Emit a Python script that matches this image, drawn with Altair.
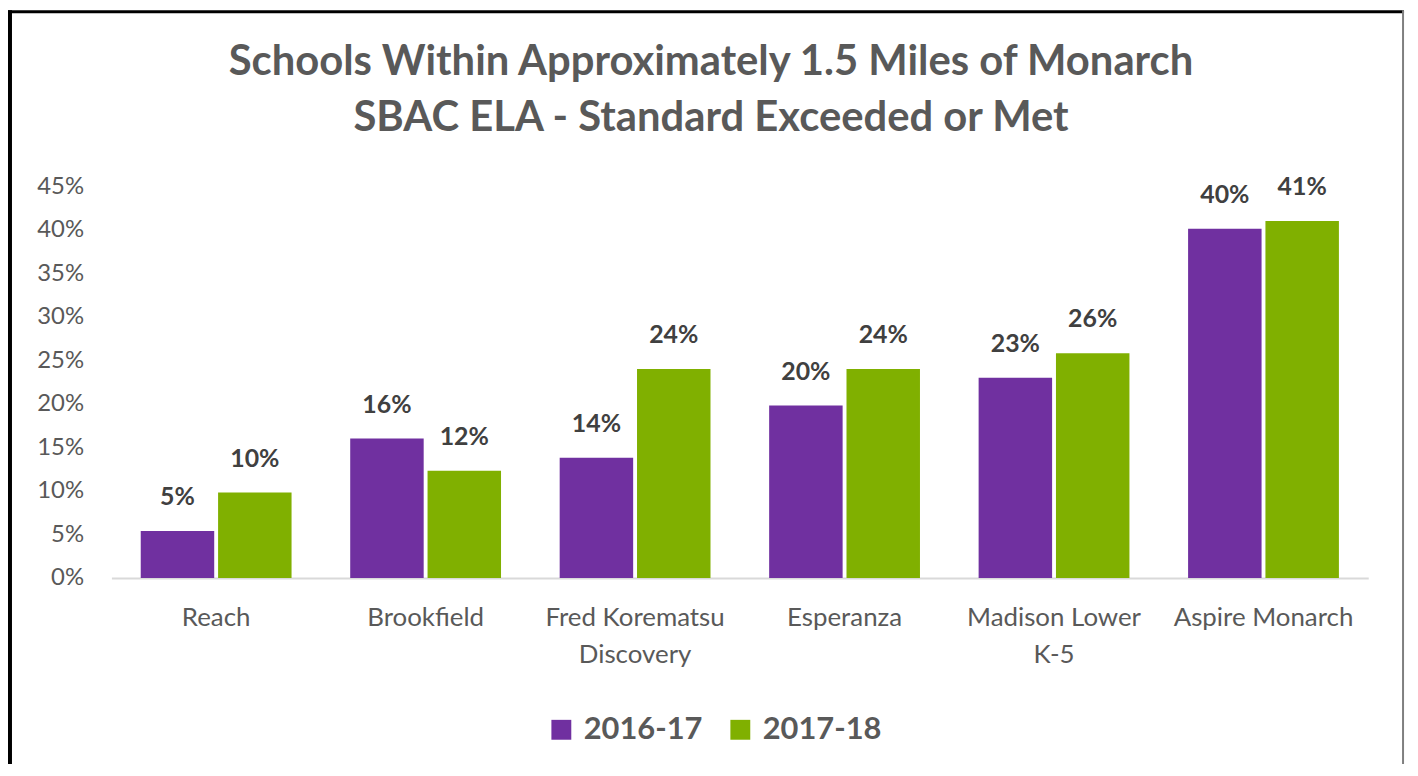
import altair as alt
import pandas as pd

categories = ["Reach", "Brookfield", "Fred Korematsu Discovery", "Esperanza",
              "Madison Lower K-5", "Aspire Monarch"]
years = ["2016-17", "2017-18"]
v_2016_17 = [0.054, 0.160, 0.138, 0.198, 0.230, 0.401]
v_2017_18 = [0.098, 0.123, 0.240, 0.240, 0.258, 0.410]
y_ticks = [0, 0.05, 0.10, 0.15, 0.20, 0.25, 0.30, 0.35, 0.40, 0.45]
colors = ["#7030A0", "#80B000"]

title_lines = ["Schools Within Approximately 1.5 Miles of Monarch",
               "SBAC ELA - Standard Exceeded or Met"]

rows = []
for i, c in enumerate(categories):
    rows.append({"school": c, "year": years[0], "value": v_2016_17[i]})
    rows.append({"school": c, "year": years[1], "value": v_2017_18[i]})
df = pd.DataFrame(rows)

FONT = "Lato"
W, H = 1264, 394

label_expr = ("datum.label == 'Fred Korematsu Discovery' ? ['Fred Korematsu', 'Discovery'] : "
              "datum.label == 'Madison Lower K-5' ? ['Madison Lower', 'K-5'] : datum.label")

x_enc = alt.X("school:N", sort=categories,
              scale=alt.Scale(paddingInner=0.28, paddingOuter=0.14),
              axis=alt.Axis(title=None, labelAngle=0, labelExpr=label_expr,
                            labelFont=FONT, labelFontSize=26, labelColor="#595959",
                            labelPadding=27, labelLineHeight=37, ticks=False,
                            labelLimit=400,
                            domainColor="#D9D9D9", domainWidth=2, labelBaseline="top"))
xo_enc = alt.XOffset("year:N", sort=years, scale=alt.Scale(paddingInner=0.05))
y_enc = alt.Y("value:Q", scale=alt.Scale(domain=[0, 0.45], nice=False),
              axis=alt.Axis(title=None, format=".0%", values=y_ticks, grid=False,
                            domain=False, ticks=False, labelFont=FONT, labelFontSize=24,
                            labelColor="#595959", labelPadding=28))

base = alt.Chart(df)

bars = base.mark_bar().encode(
    x=x_enc, xOffset=xo_enc, y=y_enc,
    color=alt.Color("year:N", sort=years, scale=alt.Scale(domain=years, range=colors),
                    legend=alt.Legend(title=None, orient="none", legendX=437, legendY=531,
                                      direction="horizontal", symbolType="square",
                                      symbolSize=400, symbolStrokeWidth=0,
                                      labelFont=FONT, labelFontSize=31,
                                      labelFontWeight="bold", labelColor="#595959",
                                      labelOffset=7, columnPadding=22, padding=0)),
)

texts = base.mark_text(font=FONT, fontSize=25, fontWeight="bold", color="#404040",
                       baseline="alphabetic", dy=-26).encode(
    x=x_enc, xOffset=xo_enc, y=y_enc,
    text=alt.Text("value:Q", format=".0%"),
)

one = pd.DataFrame({"k": [0]})
frame_left = alt.Chart(one).mark_rule(color="black", strokeWidth=4).encode(
    x=alt.value(-102), y=alt.value(-177), y2=alt.value(600))
frame_top = alt.Chart(one).mark_rule(color="black", strokeWidth=3).encode(
    x=alt.value(-104), x2=alt.value(1300), y=alt.value(-175.5))
frame_right = alt.Chart(one).mark_rule(color="#7F7F7F", strokeWidth=2).encode(
    x=alt.value(1299), y=alt.value(-177), y2=alt.value(600))

chart = alt.layer(bars, texts, frame_left, frame_top, frame_right).properties(
    width=W, height=H,
    background="white",
    title=alt.TitleParams(text=title_lines, font=FONT, fontSize=42, fontWeight="bold",
                          color="#595959", anchor="middle", offset=-133, dx=-29,
                          lineHeight=57),
    autosize=alt.AutoSizeParams(type="none"),
    padding={"left": 104, "top": 177, "right": 42, "bottom": 185},
).configure_view(stroke=None)

chart.save("out.html", embed_options={"renderer": "svg", "actions": False})
